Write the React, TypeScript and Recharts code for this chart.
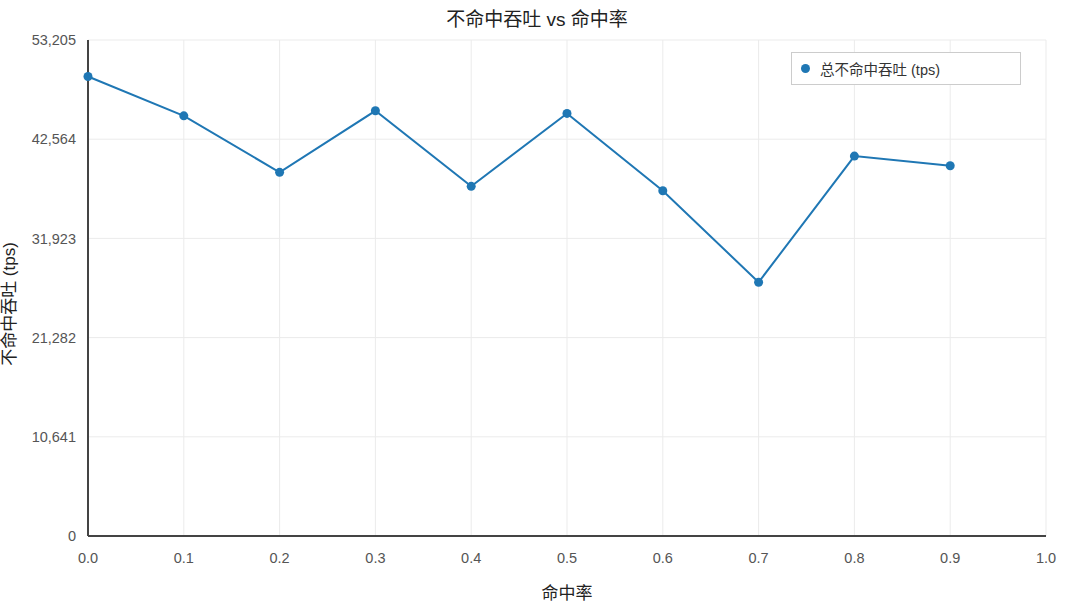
import { LineChart, Line, XAxis, YAxis, CartesianGrid } from 'recharts';

// hit rate on x, miss throughput (tps) on y
const hitRates = [0.0, 0.1, 0.2, 0.3, 0.4, 0.5, 0.6, 0.7, 0.8, 0.9];
const missTps = [49290, 45070, 39010, 45610, 37510, 45330, 37040, 27220, 40750, 39710];

const xTicks = [0, 0.1, 0.2, 0.3, 0.4, 0.5, 0.6, 0.7, 0.8, 0.9, 1.0];
const yTicks = [0, 10641, 21282, 31923, 42564, 53205];

const LINE_COLOR = '#1f77b4';
const FONT = '"Liberation Sans", "Noto Sans CJK SC", sans-serif';

const data = hitRates.map((x, i) => ({ x, tps: missTps[i] }));

export default function App() {
  return (
    <div style={{ position: 'absolute', top: 0, left: 0, width: 1080, height: 615, background: '#fff', fontFamily: FONT }}>
      {/* title */}
      <div
        style={{
          position: 'absolute', top: 7, left: 0, width: 1074, textAlign: 'center',
          fontSize: 19, lineHeight: '26px', color: '#222', fontFamily: FONT,
        }}
      >
        不命中吞吐 vs 命中率
      </div>

      <LineChart width={1080} height={615} data={data} margin={{ top: 40, right: 34, left: 0, bottom: 0 }}>
        <CartesianGrid stroke="#ebebeb" strokeWidth={1} />
        <XAxis
          dataKey="x"
          type="number"
          domain={[0, 1]}
          ticks={xTicks}
          tickFormatter={(v: number) => v.toFixed(1)}
          height={79}
          stroke="#444"
          strokeWidth={2}
          tickLine={false}
          tickSize={6}
          tickMargin={11}
          tick={{ fill: '#555', fontSize: 14.5, fontFamily: FONT }}
          label={{ value: '命中率', position: 'insideBottom', offset: 16, style: { fill: '#222', fontSize: 17, fontFamily: FONT } }}
        />
        <YAxis
          type="number"
          domain={[0, 53205]}
          ticks={yTicks}
          tickFormatter={(v: number) => v.toLocaleString('en-US')}
          width={88}
          stroke="#444"
          strokeWidth={2}
          tickLine={false}
          tickSize={6}
          tickMargin={6}
          tick={{ fill: '#555', fontSize: 14.5, fontFamily: FONT }}
          label={{ value: '不命中吞吐 (tps)', angle: -90, position: 'insideLeft', offset: 9, dy: 16, style: { textAnchor: 'middle', fill: '#222', fontSize: 17, fontFamily: FONT } }}
        />
        <Line
          type="linear"
          dataKey="tps"
          stroke={LINE_COLOR}
          strokeWidth={2}
          dot={{ r: 4.5, fill: LINE_COLOR, stroke: LINE_COLOR, strokeWidth: 0 }}
          activeDot={false}
          isAnimationActive={false}
        />
      </LineChart>

      {/* legend box */}
      <div
        style={{
          position: 'absolute', left: 791, top: 52, width: 230, height: 33,
          border: '1px solid #ccc', background: '#fff', boxSizing: 'border-box',
          display: 'flex', alignItems: 'center', paddingLeft: 9,
          fontSize: 14.5, color: '#333', fontFamily: FONT,
        }}
      >
        <span style={{ display: 'inline-block', width: 9, height: 9, borderRadius: '50%', background: LINE_COLOR, marginRight: 10 }} />
        总不命中吞吐 (tps)
      </div>
    </div>
  );
}
